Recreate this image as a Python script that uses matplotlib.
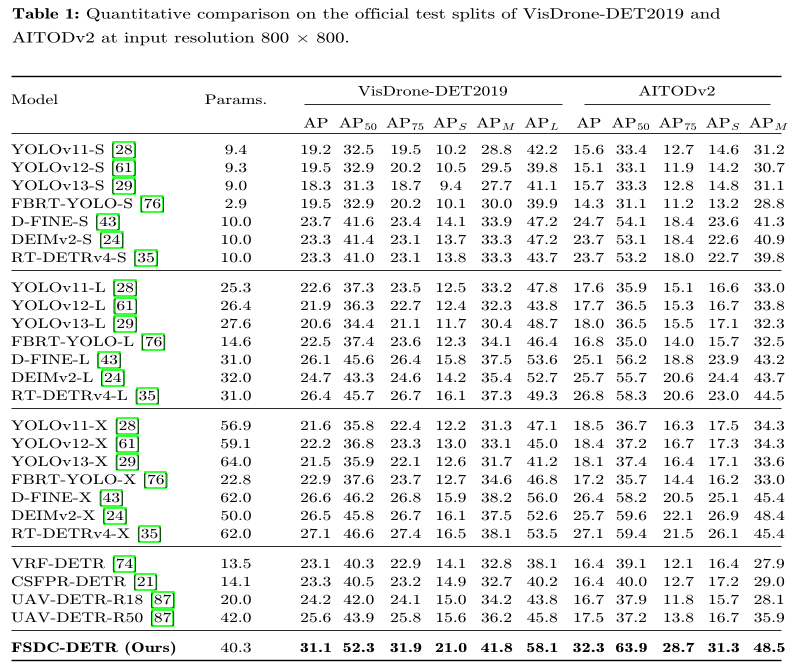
import matplotlib
matplotlib.use("Agg")
import matplotlib.pyplot as plt
from matplotlib.font_manager import FontProperties
from matplotlib.patches import Rectangle
from matplotlib.patheffects import AbstractPathEffect
from matplotlib.transforms import Affine2D

plt.rcParams['mathtext.fontset'] = 'cm'
plt.rcParams['font.family'] = ['cmr10']
plt.rcParams['axes.unicode_minus'] = False

# ---------------- table content ----------------
title_bold = 'Table 1:'
title_line1 = 'Quantitative comparison on the official test splits of VisDrone-DET2019 and'
title_line2 = r'AITODv2 at input resolution 800 $\times$ 800.'

models = ['YOLOv11-S', 'YOLOv12-S', 'YOLOv13-S', 'FBRT-YOLO-S', 'D-FINE-S', 'DEIMv2-S', 'RT-DETRv4-S',
          'YOLOv11-L', 'YOLOv12-L', 'YOLOv13-L', 'FBRT-YOLO-L', 'D-FINE-L', 'DEIMv2-L', 'RT-DETRv4-L',
          'YOLOv11-X', 'YOLOv12-X', 'YOLOv13-X', 'FBRT-YOLO-X', 'D-FINE-X', 'DEIMv2-X', 'RT-DETRv4-X',
          'VRF-DETR', 'CSFPR-DETR', 'UAV-DETR-R18', 'UAV-DETR-R50',
          'FSDC-DETR (Ours)']
refs = ['28', '61', '29', '76', '43', '24', '35',
        '28', '61', '29', '76', '43', '24', '35',
        '28', '61', '29', '76', '43', '24', '35',
        '74', '21', '87', '87',
        '']
params = [9.4, 9.3, 9.0, 2.9, 10.0, 10.0, 10.0,
          25.3, 26.4, 27.6, 14.6, 31.0, 32.0, 31.0,
          56.9, 59.1, 64.0, 22.8, 62.0, 50.0, 62.0,
          13.5, 14.1, 20.0, 42.0,
          40.3]
group_sizes = [7, 7, 7, 4, 1]

vis_name = 'VisDrone-DET2019'
vis_cols = ['AP', r'AP$_{50}$', r'AP$_{75}$', r'AP$_{S}$', r'AP$_{M}$', r'AP$_{L}$']
vis = [
    [19.2, 32.5, 19.5, 10.2, 28.8, 42.2],
    [19.5, 32.9, 20.2, 10.5, 29.5, 39.8],
    [18.3, 31.3, 18.7, 9.4, 27.7, 41.1],
    [19.5, 32.9, 20.2, 10.1, 30.0, 39.9],
    [23.7, 41.6, 23.4, 14.1, 33.9, 47.2],
    [23.3, 41.4, 23.1, 13.7, 33.3, 47.2],
    [23.3, 41.0, 23.1, 13.8, 33.3, 43.7],
    [22.6, 37.3, 23.5, 12.5, 33.2, 47.8],
    [21.9, 36.3, 22.7, 12.4, 32.3, 43.8],
    [20.6, 34.4, 21.1, 11.7, 30.4, 48.7],
    [22.5, 37.4, 23.6, 12.3, 34.1, 46.4],
    [26.1, 45.6, 26.4, 15.8, 37.5, 53.6],
    [24.7, 43.3, 24.6, 14.2, 35.4, 52.7],
    [26.4, 45.7, 26.7, 16.1, 37.3, 49.3],
    [21.6, 35.8, 22.4, 12.2, 31.3, 47.1],
    [22.2, 36.8, 23.3, 13.0, 33.1, 45.0],
    [21.5, 35.9, 22.1, 12.6, 31.7, 41.2],
    [22.9, 37.6, 23.7, 12.7, 34.6, 46.8],
    [26.6, 46.2, 26.8, 15.9, 38.2, 56.0],
    [26.5, 45.8, 26.7, 16.1, 37.5, 52.6],
    [27.1, 46.6, 27.4, 16.5, 38.1, 53.5],
    [23.1, 40.3, 22.9, 14.1, 32.8, 38.1],
    [23.3, 40.5, 23.2, 14.9, 32.7, 40.2],
    [24.2, 42.0, 24.1, 15.0, 34.2, 43.8],
    [25.6, 43.9, 25.8, 15.6, 36.2, 45.8],
    [31.1, 52.3, 31.9, 21.0, 41.8, 58.1],
]

aitod_name = 'AITODv2'
aitod_cols = ['AP', r'AP$_{50}$', r'AP$_{75}$', r'AP$_{S}$', r'AP$_{M}$']
aitod = [
    [15.6, 33.4, 12.7, 14.6, 31.2],
    [15.1, 33.1, 11.9, 14.2, 30.7],
    [15.7, 33.3, 12.8, 14.8, 31.1],
    [14.3, 31.1, 11.2, 13.2, 28.8],
    [24.7, 54.1, 18.4, 23.6, 41.3],
    [23.7, 53.1, 18.4, 22.6, 40.9],
    [23.7, 53.2, 18.0, 22.7, 39.8],
    [17.6, 35.9, 15.1, 16.6, 33.0],
    [17.7, 36.5, 15.3, 16.7, 33.8],
    [18.0, 36.5, 15.5, 17.1, 32.3],
    [16.8, 35.0, 14.0, 15.7, 32.5],
    [25.1, 56.2, 18.8, 23.9, 43.2],
    [25.7, 55.7, 20.6, 24.4, 43.7],
    [26.8, 58.3, 20.6, 23.0, 44.5],
    [18.5, 36.7, 16.3, 17.5, 34.3],
    [18.4, 37.2, 16.7, 17.3, 34.3],
    [18.1, 37.4, 16.4, 17.1, 33.6],
    [17.2, 35.7, 14.4, 16.2, 33.0],
    [26.4, 58.2, 20.5, 25.1, 45.4],
    [25.7, 59.6, 22.1, 26.9, 48.4],
    [27.1, 59.4, 21.5, 26.1, 45.4],
    [16.4, 39.1, 12.1, 16.4, 27.9],
    [16.4, 40.0, 12.7, 17.2, 29.0],
    [16.7, 37.9, 11.8, 15.7, 28.1],
    [17.5, 37.2, 13.8, 16.7, 35.9],
    [32.3, 63.9, 28.7, 31.3, 48.5],
]
bold_rows = [len(models) - 1]


# the reference page was scanned a bit wide, so glyphs get stretched sideways
class Stretch(AbstractPathEffect):
    def __init__(self, x0, sx):
        super().__init__()
        self.x0 = x0
        self.sx = sx

    def draw_path(self, renderer, gc, tpath, affine, rgbFace=None):
        st = Affine2D().translate(-self.x0, 0).scale(self.sx, 1).translate(self.x0, 0)
        renderer.draw_path(gc, tpath, affine + st, rgbFace)


W, H = 792, 666
fig = plt.figure(figsize=(W / 100, H / 100), dpi=100)
ax = fig.add_axes([0, 0, 1, 1])
ax.set_xlim(0, W)
ax.set_ylim(H, 0)
ax.axis('off')
renderer = fig.canvas.get_renderer()

SX = 1.26
SXB = 1.31
FS = 10
reg = FontProperties(family='cmr10', size=FS)
bld = FontProperties(family='cmb10', size=FS)
treg = FontProperties(family='cmr10', size=10.75)
tbld = FontProperties(family='cmb10', size=10.75)


def width(s, prop):
    w, h, d = renderer.get_text_width_height_descent(s, prop, ismath='$' in s)
    return w


def put(x, y, s, prop, ha='left', sx=SX):
    ax.text(x, y, s, fontproperties=prop, ha=ha, va='baseline',
            path_effects=[Stretch(x, sx)])


def rule(y, x0, x1, lw):
    ax.plot([x0, x1], [y, y], color='black', lw=lw, solid_capstyle='butt')


# ---------------- caption ----------------
x0 = 12
put(x0, 18.5, title_bold, tbld)
space = width('a a', treg) - width('aa', treg)
put(x0 + SX * (width(title_bold, tbld) + space), 18.5, title_line1, treg)
put(x0, 42.5, title_line2, treg)

# ---------------- column layout ----------------
left, right = 11, 781
x_model = 11
x_params = 236
gap = 7


def layout(x_start, headers, values):
    centers = []
    x = x_start
    for j, hdr in enumerate(headers):
        w = max([width(hdr, reg)] + [width(f'{row[j]:.1f}', reg) for row in values]) * SX
        centers.append(x + w / 2)
        x += w + gap
    return centers


vis_x = layout(300, vis_cols, vis)
aitod_x = layout(573, aitod_cols, aitod)

# ---------------- header ----------------
rule(76, left, right, 1.0)
put(x_model, 104, 'Model', reg)
put(x_params, 104, 'Params.', reg, ha='center')
vis_line = (304, 562)
aitod_line = (584, 770)
put(sum(vis_line) / 2, 95.5, vis_name, reg, ha='center')
put(sum(aitod_line) / 2, 95.5, aitod_name, reg, ha='center')
rule(104, vis_line[0], vis_line[1], 0.6)
rule(104, aitod_line[0], aitod_line[1], 0.6)
for xc, hdr in zip(vis_x, vis_cols):
    put(xc, 127.5, hdr, reg, ha='center')
for xc, hdr in zip(aitod_x, aitod_cols):
    put(xc, 127.5, hdr, reg, ha='center')
rule(133, left, right, 0.6)

# ---------------- body ----------------
y = 154
i = 0
for g, n in enumerate(group_sizes):
    for k in range(n):
        is_bold = i in bold_rows
        p = bld if is_bold else reg
        sxp = SXB if is_bold else SX
        if refs[i]:
            prefix = models[i] + ' ['
            put(x_model, y, prefix + refs[i] + ']', p, sx=sxp)
            a = x_model + sxp * width(prefix, p)
            b = x_model + sxp * width(prefix + refs[i], p)
            ax.add_patch(Rectangle((a - 2, y - 12.5), b - a + 4, 16, fill=False,
                                   edgecolor=(0, 1, 0), lw=1.1))
        else:
            put(x_model, y, models[i], p, sx=sxp)
        put(x_params, y, f'{params[i]:.1f}', reg, ha='center')
        for xc, v in zip(vis_x, vis[i]):
            put(xc, y, f'{v:.1f}', p, ha='center', sx=sxp)
        for xc, v in zip(aitod_x, aitod[i]):
            put(xc, y, f'{v:.1f}', p, ha='center', sx=sxp)
        i += 1
        y += 18
    y -= 18
    last = g == len(group_sizes) - 1
    rule(y + 8, left, right, 1.0 if last else 0.6)
    y += 30

fig.savefig('out.png', dpi=100)
